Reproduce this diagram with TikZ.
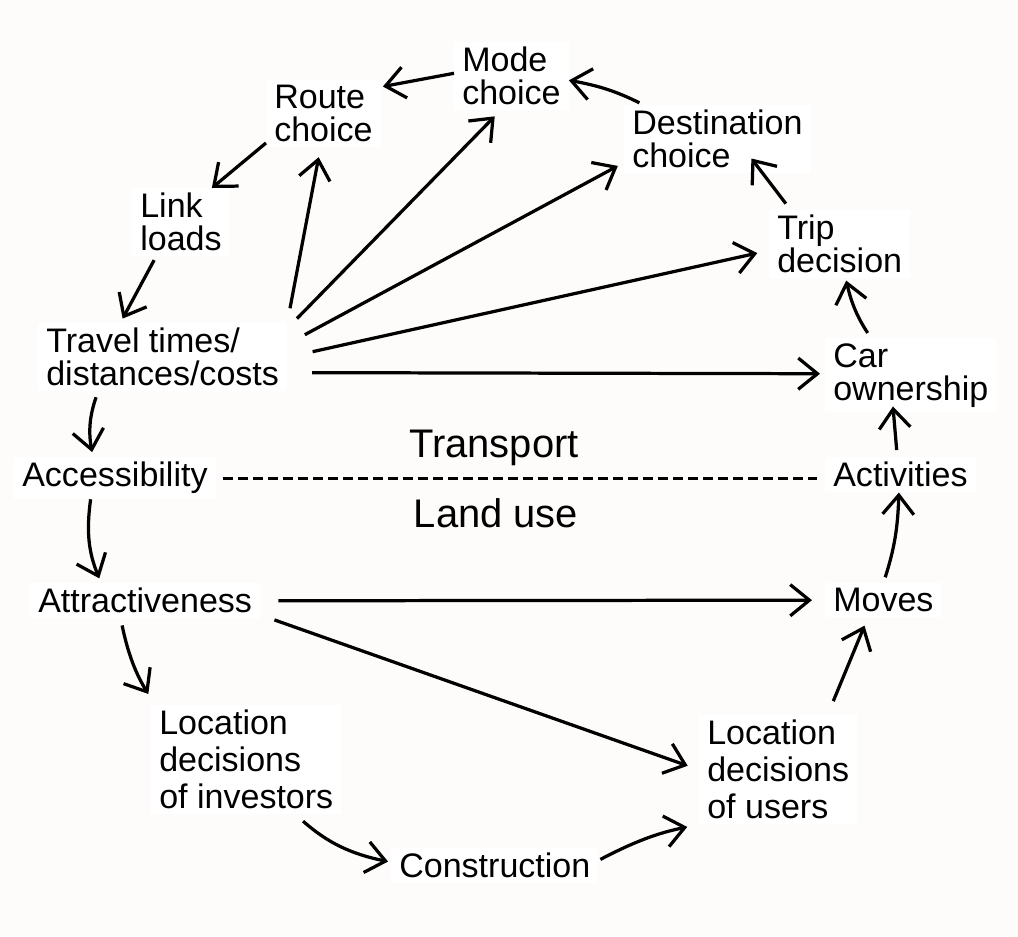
\documentclass[tikz,border=0pt]{standalone}
\usepackage{fontspec}
\setmainfont{Liberation Sans}
\usetikzlibrary{arrows.meta}
\definecolor{paper}{RGB}{253,252,250}

\begin{document}
\begin{tikzpicture}[x=0.025cm,y=-0.025cm,
      box/.style={fill=white,anchor=north west,align=left,inner xsep=0.2cm,inner ysep=0.125cm,
        font=\fontsize{24.2pt}{23.5pt}\selectfont},
      tallbox/.style={box,font=\fontsize{24.2pt}{26.3pt}\selectfont},
      side/.style={anchor=base,font=\fontsize{28.4pt}{30pt}\selectfont},
      flow/.style={-{Straight Barb[length=0.48cm,width=0.78cm]},line width=2.3pt},
      divide/.style={line width=2.3pt,dash pattern=on 0.25cm off 0.125cm},
      ]
      \fill[paper] (0,0) rectangle (1018,936);
      \useasboundingbox (0,0) rectangle (1018,936);

      \node[box] (mode) at (454,42) {Mode\\choice};
      \node[box] (route) at (266,80) {Route\\choice};
      \node[box] (dest) at (624,105) {Destination\\choice};
      \node[box] (link) at (132,188) {Link\\loads};
      \node[box] (trip) at (769,210) {Trip\\decision};
      \node[box] (travel) at (38,323) {Travel times/\\distances/costs};
      \node[box] (car) at (825,338) {Car\\ownership};
      \node[box] (access) at (14,457) {Accessibility};
      \node[box] (activ) at (825,457) {Activities};
      \node[box] (attract) at (30,583) {Attractiveness};
      \node[box] (moves) at (825,583) {Moves};
      \node[tallbox] (locinv) at (151,705) {Location\\decisions\\of investors};
      \node[tallbox] (locuse) at (699,715) {Location\\decisions\\of users};
      \node[box] (constr) at (391,848) {Construction};
      \node[side] (transport) at (494,457) {Transport};
      \node[side] (landuse) at (496,527) {Land use};

      \draw[flow,shorten <=0.375cm,shorten >=0.25cm] (travel.north east) -- (route.265);
      \draw[flow,shorten <=0.35cm,shorten >=0.2cm] (travel.13) -- (mode.252);
      \draw[flow,shorten <=0.5cm,shorten >=0.175cm] (travel.6) -- (dest.194);
      \draw[flow,shorten <=0.65cm,shorten >=0.3cm] (travel.east) -- (trip.185);
      \draw[flow,shorten <=0.625cm,shorten >=0.125cm] (travel.-7) -- (car.179);

      \draw[flow,shorten <=0.15cm,shorten >=0.125cm] (travel.208) to[bend right=15] (access.136);
      \draw[flow,shorten >=0.125cm] (access.221) to[bend right=15] (attract.158);
      \draw[flow,shorten <=0.175cm,shorten >=0.325cm] (attract.216) to[bend right=10] (locinv.149);
      \draw[flow,shorten <=0.25cm,shorten >=0.075cm] (locinv.312) to[bend right=15] (constr.178);
      \draw[flow,shorten <=0.05cm,shorten >=0.3cm] (constr.3) to[bend left=8] (locuse.south west);
      \draw[flow,shorten <=0.375cm,shorten >=0.3cm] (attract.-7) -- (locuse.west);
      \draw[flow,shorten <=0.45cm,shorten >=0.325cm] (attract.east) -- (moves.west);
      \draw[flow,shorten <=0.375cm,shorten >=0.225cm] (locuse.48) -- (moves.228);
      \draw[flow,shorten <=0.15cm] (moves.90) to[bend right=8] (activ.265);
      \draw[flow,shorten <=0.175cm,shorten >=-0.15cm] (activ.100) -- (car.245);
      \draw[flow,shorten <=0.15cm,shorten >=0.05cm] (car.137) to[bend left=10] (trip.280);
      \draw[flow,shorten <=0.2cm,shorten >=-0.475cm] (trip.145) -- (dest.-37);
      \draw[flow,shorten <=0.125cm] (dest.155) to[bend right=8] (mode.-4);
      \draw[flow,shorten >=0.05cm] (mode.177) -- (route.25);
      \draw[flow] (route.207) -- (link.48);
      \draw[flow,shorten <=0.1cm,shorten >=0.125cm] (link.234) -- (travel.141);

      \draw[divide,shorten <=0.175cm,shorten >=0.2cm] (access.east) -- (access.east -| activ.west);
    \end{tikzpicture}
\end{document}
